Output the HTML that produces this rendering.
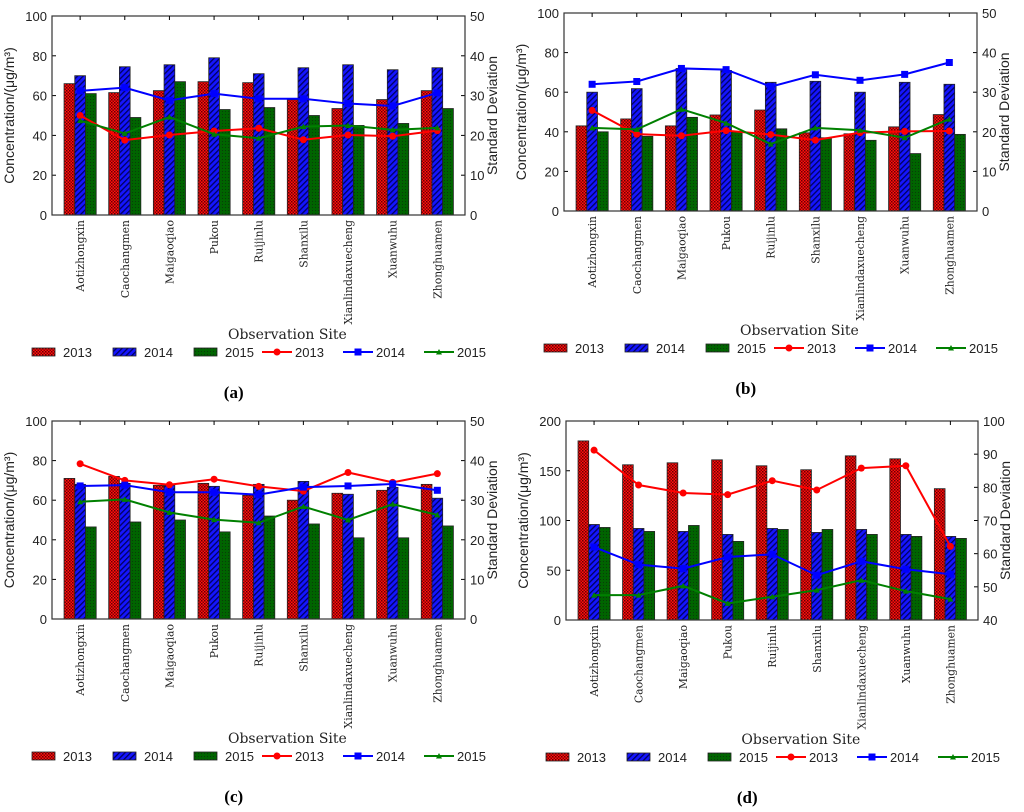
<!DOCTYPE html>
<html><head><meta charset="utf-8"><style>
html,body{margin:0;padding:0;background:#fff;}
svg{display:block;}
.tk{font-family:"Liberation Sans",sans-serif;font-size:13px;fill:#222;}
.sr{font-family:"DejaVu Serif","Liberation Serif",serif;font-size:10.8px;fill:#222;}
.ax{font-family:"Liberation Sans",sans-serif;font-size:14px;fill:#222;}
.ot{font-family:"DejaVu Serif","Liberation Serif",serif;font-size:14px;fill:#222;}
.lg{font-family:"Liberation Sans",sans-serif;font-size:13px;fill:#222;}
.pl{font-family:"Liberation Serif",serif;font-size:17px;font-weight:bold;fill:#000;}
</style></head><body>
<svg id="chart" width="1024" height="812" xmlns="http://www.w3.org/2000/svg">
<defs>
<pattern id="pr" width="3" height="3" patternUnits="userSpaceOnUse"><rect width="3" height="3" fill="#ff1010"/><rect width="1.5" height="1.5" fill="#600"/><rect x="1.5" y="1.5" width="1.5" height="1.5" fill="#800"/></pattern>
<pattern id="pb" width="4" height="4" patternUnits="userSpaceOnUse" patternTransform="rotate(45)"><rect width="4" height="4" fill="#1515ff"/><rect width="1.3" height="4" fill="#000060"/></pattern>
<pattern id="pg" width="3" height="3" patternUnits="userSpaceOnUse"><rect width="3" height="3" fill="#006400"/><rect width="1" height="1" fill="#0a3a0a"/></pattern>
</defs>
</svg>
<script>
const sites = ["Aotizhongxin","Caochangmen","Maigaoqiao","Pukou","Ruijinlu","Shanxilu","Xianlindaxuecheng","Xuanwuhu","Zhonghuamen"];
// panel a
const aBar13 = [66,61.5,62.5,67,66.5,58,53.5,58,62.5];
const aBar14 = [70,74.5,75.5,79,71,74,75.5,73,74];
const aBar15 = [61,49,67,53,54,50,45,46,53.5];
const aSd13 = [25,18.8,20.1,21.1,21.8,18.9,20.1,19.8,21.2];
const aSd14 = [31.2,32,28.8,30.5,29.2,29.2,28,27.4,30.7];
const aSd15 = [23.7,20.5,24.6,20.3,19.3,22.2,22.5,21.4,21.9];
// panel b
const bBar13 = [43,46.5,43,48.5,51,39.5,39,42.5,48.7];
const bBar14 = [60,61.8,72,71,65,65.5,60,65,64];
const bBar15 = [40,37.7,47.3,40,41.5,37,35.7,29,38.7];
const bSd13 = [25.4,19.4,19,20.3,19.3,17.9,19.8,20.1,20.2];
const bSd14 = [32,32.7,36,35.7,31.4,34.4,33,34.5,37.5];
const bSd15 = [21,20.6,25.7,22.2,16.9,21,20.4,18.5,23.2];
// panel c
const cBar13 = [71,72,67.5,68.5,62.5,60,63.5,65,68];
const cBar14 = [68,68.5,67.5,67,68,69.5,63,66.5,61];
const cBar15 = [46.5,49,50,44,52,48,41,41,47];
const cSd13 = [39.2,35,33.9,35.3,33.5,32.3,37,34.5,36.7];
const cSd14 = [33.6,33.8,32,32,31.4,33.3,33.6,34.1,32.5];
const cSd15 = [29.6,30.2,26.9,25.1,24.3,28.4,25,29,26.3];
// panel d
const dBar13 = [180,156,158,161,155,151,165,162,132];
const dBar14 = [96,92,89,86,92,88,91,86,84];
const dBar15 = [93,89,95,79,91,91,86,84,82];
const dSd13 = [91.2,80.7,78.3,77.8,82,79.2,85.8,86.5,62.2];
const dSd14 = [62,56.7,55.5,59,59.8,53.5,57.7,55.3,53.8];
const dSd15 = [47.5,47.5,50.3,45,47,49,52,48.7,46.3];
const leftTicksA = [0,20,40,60,80,100];
const rightTicksA = [0,10,20,30,40,50];
const leftTicksD = [0,50,100,150,200];
const rightTicksD = [40,50,60,70,80,90,100];

const NS="http://www.w3.org/2000/svg";
const svg=document.getElementById('chart');
function mk(tag,attrs,parent,text){const e=document.createElementNS(NS,tag);for(const k in attrs)e.setAttribute(k,attrs[k]);if(text!==undefined)e.textContent=text;(parent||svg).appendChild(e);return e;}

function panel(key,L,T,R,B,bars,sds,lt,rt,lmin,lmax,rmin,rmax,letter){
  const g=mk('g',{});
  
  
  const W=R-L,H=B-T;
  const yL=v=>B-(v-lmin)/(lmax-lmin)*H;
  const yR=v=>B-(v-rmin)/(rmax-rmin)*H;
  const step=W/9.25, bw=step*0.24, off=step*0.27;
  const gx=i=>L+off+i*step;
  lt.forEach(v=>{const y=yL(v);
    const t=mk('text',{x:L-5,y:y+5,'text-anchor':'end',class:'tk'},g,String(v));
    
    mk('line',{x1:L,x2:L+4,y1:y,y2:y,stroke:'#000'},g);});
  rt.forEach(v=>{const y=yR(v);
    const t=mk('text',{x:R+5,y:y+5,class:'tk'},g,String(v));
    
    mk('line',{x1:R-4,x2:R,y1:y,y2:y,stroke:'#000'},g);});
  const fills=['url(#pr)','url(#pb)','url(#pg)'];
  bars.forEach((arr,s)=>arr.forEach((v,i)=>{
    const r=mk('rect',{x:gx(i)+s*bw,y:yL(v),width:bw,height:B-yL(v),fill:fills[s],stroke:'#222','stroke-width':0.8},g);
    
    
  }));
  const cols=['#ff0000','#0000ff','#008000'];
  sds.forEach((arr,s)=>{
    const pts=arr.map((v,i)=>(gx(i)+1.5*bw)+','+yR(v)).join(' ');
    const pl=mk('polyline',{points:pts,fill:'none',stroke:cols[s],'stroke-width':2},g);
    
    
    arr.forEach((v,i)=>{const x=gx(i)+1.5*bw,y=yR(v);
      if(s===0)mk('circle',{cx:x,cy:y,r:3.5,fill:cols[s]},g);
      else if(s===1)mk('rect',{x:x-3.5,y:y-3.5,width:7,height:7,fill:cols[s]},g);
      else mk('polygon',{points:`${x},${y-3} ${x-3},${y+2.5} ${x+3},${y+2.5}`,fill:cols[s]},g);});
  });
  mk('rect',{x:L,y:T,width:W,height:H,fill:'none',stroke:'#333','stroke-width':1.2},g);
  sites.forEach((s,i)=>{const x=gx(i)+1.5*bw;
    mk('line',{x1:x,x2:x,y1:T,y2:T+4,stroke:'#000'},g);
    const t=mk('text',{x:0,y:0,class:'sr','text-anchor':'end',transform:`translate(${x+4},${B+5}) rotate(-90)`},g,s);
    });
  const yl=mk('text',{x:0,y:0,class:'ax','text-anchor':'middle',transform:`translate(${L-38},${T+H/2}) rotate(-90)`},g,'Concentration/(μg/m³)');
  
  const yr=mk('text',{x:0,y:0,class:'ax','text-anchor':'middle',transform:`translate(${R+32},${T+H/2}) rotate(-90)`},g,'Standard Deviation');
  
  const xt=mk('text',{x:L+W*0.57,y:B+124,class:'ot','text-anchor':'middle'},g,'Observation Site');
  
  const ly=B+137, bx=L-20;
  const lg=mk('g',{},g);
  
  [0,1,2].forEach(s=>{const x=bx+s*81;
    mk('rect',{x:x,y:ly-4,width:23,height:8,fill:fills[s],stroke:'#222','stroke-width':0.8},lg);
    const t=mk('text',{x:x+31,y:ly+5,class:'lg'},lg,String(2013+s));
    });
  [0,1,2].forEach(s=>{const x=bx+230+s*81;
    mk('line',{x1:x,x2:x+30,y1:ly,y2:ly,stroke:cols[s],'stroke-width':2},lg);
    const cx=x+15;
    if(s===0)mk('circle',{cx:cx,cy:ly,r:3.5,fill:cols[s]},lg);
    else if(s===1)mk('rect',{x:cx-3.5,y:ly-3.5,width:7,height:7,fill:cols[s]},lg);
    else mk('polygon',{points:`${cx},${ly-3} ${cx-3},${ly+2.5} ${cx+3},${ly+2.5}`,fill:cols[s]},lg);
    const t=mk('text',{x:x+33,y:ly+5,class:'lg'},lg,String(2013+s));
    });
  const pt=mk('text',{x:L+W*0.44,y:B+183,class:'pl','text-anchor':'middle'},g,'('+letter+')');
  
}
panel('a',52,16,465,215,[aBar13,aBar14,aBar15],[aSd13,aSd14,aSd15],leftTicksA,rightTicksA,0,100,0,50,'a');
panel('b',564,13,977,211,[bBar13,bBar14,bBar15],[bSd13,bSd14,bSd15],leftTicksA,rightTicksA,0,100,0,50,'b');
panel('c',52,421,465,619,[cBar13,cBar14,cBar15],[cSd13,cSd14,cSd15],leftTicksA,rightTicksA,0,100,0,50,'c');
panel('d',566,421,978,620,[dBar13,dBar14,dBar15],[dSd13,dSd14,dSd15],leftTicksD,rightTicksD,0,200,40,100,'d');
</script>
</body></html>
